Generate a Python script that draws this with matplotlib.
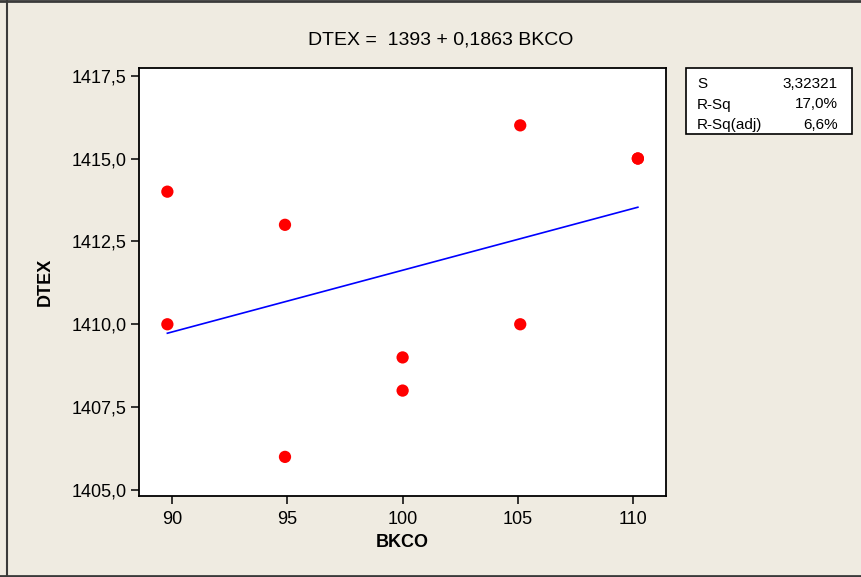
import matplotlib
matplotlib.use("Agg")
import matplotlib.pyplot as plt
from matplotlib.lines import Line2D
from matplotlib.patches import Rectangle
import numpy as np

plt.rcParams['font.family'] = ['Liberation Sans', 'DejaVu Sans']

# Observations
bkco = [89.8, 89.8, 94.9, 94.9, 100.0, 100.0, 105.1, 105.1, 110.2, 110.2]
dtex = [1414, 1410, 1413, 1406, 1409, 1408, 1416, 1410, 1415, 1415]

# Fitted line coefficients
intercept = 1393
slope = 0.1863

# Fit summary table
stat_names = ["S", "R-Sq", "R-Sq(adj)"]
stat_values = ["3,32321", "17,0%", "6,6%"]

x_ticks = [90, 95, 100, 105, 110]
y_ticks = [1405.0, 1407.5, 1410.0, 1412.5, 1415.0, 1417.5]
y_tick_labels = ["1405,0", "1407,5", "1410,0", "1412,5", "1415,0", "1417,5"]

W, H = 861, 577
bg = '#EFEBE1'
fig = plt.figure(figsize=(W / 100, H / 100), dpi=100, facecolor=bg)

ax = fig.add_axes([139 / W, 1 - 496 / H, (666 - 139) / W, (496 - 68) / H])
ax.set_facecolor('white')

xs = np.array([min(bkco), max(bkco)])
ax.plot(xs, intercept + slope * xs, color='#0000FF', lw=1.2, zorder=2)
ax.scatter(bkco, dtex, s=78, color='#FF0000', edgecolors='none', zorder=3)

ax.set_xlim(88.57, 111.42)
ax.set_ylim(1404.82, 1417.73)
ax.set_xticks(x_ticks)
ax.set_xticklabels([str(t) for t in x_ticks])
ax.set_yticks(y_ticks)
ax.set_yticklabels(y_tick_labels)
ax.tick_params(axis='both', direction='out', length=6, width=1.1,
               labelsize=13, colors='black')
ax.tick_params(axis='x', pad=5)
ax.tick_params(axis='y', pad=3)
for sp in ax.spines.values():
    sp.set_linewidth(1.3)
    sp.set_color('black')

ax.set_xlabel("BKCO", fontsize=13, fontweight='bold', labelpad=4)
ax.set_ylabel("DTEX", fontsize=13, fontweight='bold', labelpad=13)

fig.text(441 / W, 1 - 40 / H, "DTEX =  1393 + 0,1863 BKCO", fontsize=14,
         ha='center', va='center')

# Summary box
fig.patches.append(Rectangle((686 / W, 1 - 134 / H), 166 / W, 66 / H,
                             transform=fig.transFigure, facecolor='white',
                             edgecolor='black', lw=1.2))
rows_y = [84, 104.5, 125]
for name, val, yy in zip(stat_names, stat_values, rows_y):
    fig.text(697 / W, 1 - yy / H, name, fontsize=11, ha='left', va='center')
    fig.text(838 / W, 1 - yy / H, val, fontsize=11, ha='right', va='center')

# Window frame
frame_col = '#3A3A3A'
fig.add_artist(Line2D([0, 1], [1 - 1 / H, 1 - 1 / H], transform=fig.transFigure,
                      color=frame_col, lw=2))
fig.add_artist(Line2D([0, 1], [1 - 575.5 / H, 1 - 575.5 / H], transform=fig.transFigure,
                      color=frame_col, lw=2))
fig.add_artist(Line2D([7 / W, 7 / W], [1 - 575.5 / H, 1 - 1 / H], transform=fig.transFigure,
                      color=frame_col, lw=1.5))

fig.savefig("out.png", dpi=100, facecolor=bg)
